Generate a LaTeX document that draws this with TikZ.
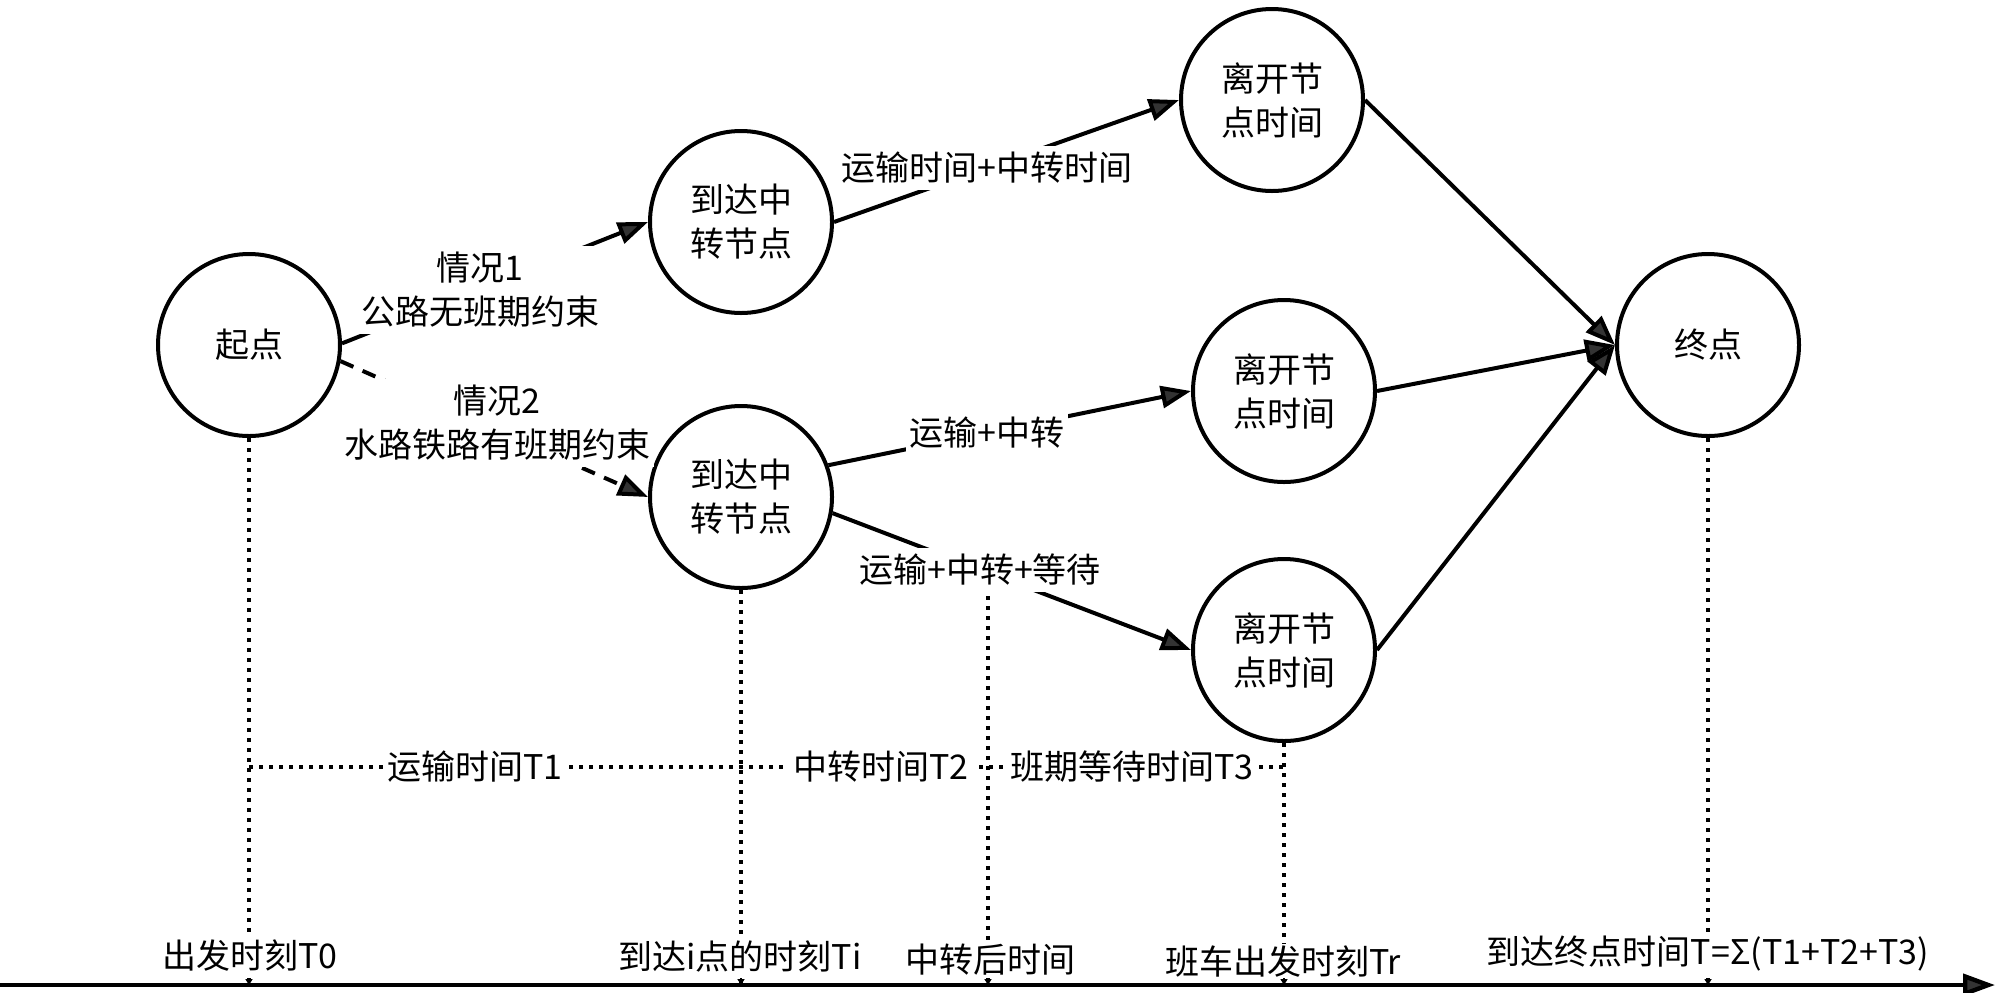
\documentclass[tikz,border=0pt]{standalone}
\usepackage{fontspec}
\setmainfont{Noto Sans CJK SC}
\usetikzlibrary{arrows.meta,calc}
\begin{document}
\begin{tikzpicture}[x=0.5pt,y=-0.5pt,
  every node/.style={font=\fontsize{17pt}{22pt}\selectfont, align=center},
  state/.style={circle, draw, line width=2pt, minimum size=91pt, inner sep=0pt, fill=white},
  edge/.style={line width=2pt, -{Triangle[length=15pt,width=11pt,fill=black!80]}},
  dashedge/.style={edge, dash pattern=on 7pt off 5pt},
  lbl/.style={fill=white, inner xsep=2pt, inner ysep=3pt},
  blbl/.style={fill=white, inner xsep=2pt, inner ysep=1pt},
  guide/.style={line width=1.8pt, dash pattern=on 1.8pt off 3.2pt},
  tick/.style={line width=1pt, -{Triangle[length=3pt,width=3.5pt]}},
  axis/.style={line width=2.2pt, -{Triangle[length=16pt,width=11pt,fill=black!80]}},
]
\fill[white] (0,0) rectangle (2000,992);
\useasboundingbox (0,0) rectangle (2000,992);

% states
\node[state] (S)  at (249,345)  {起点};
\node[state] (A1) at (741,222)  {到达中\\转节点};
\node[state] (A2) at (741,497)  {到达中\\转节点};
\node[state] (L1) at (1272,100) {离开节\\点时间};
\node[state] (L2) at (1284,391) {离开节\\点时间};
\node[state] (L3) at (1284,650) {离开节\\点时间};
\node[state] (E)  at (1708,345) {终点};

% timeline coordinates
\coordinate (axL) at (0,985);
\coordinate (axR) at (1995,985);
\coordinate (hl) at (0,767);
\coordinate (mid) at (988,596);

% edges
\draw[edge] (S.1) -- (A1.west);
\draw[dashedge] (S.-10) -- (A2.west);
\draw[edge] (A1.east) -- (L1.west);
\draw[edge] (A2.20) -- (L2.west);
\draw[edge] (A2.-10) -- (L3.west);
\draw[edge] (L1.east) -- (E.west);
\draw[edge] (L2.east) -- (E.west);
\draw[edge] (L3.east) -- (E.west);

% guides
\draw[guide] (S.south) -- (S.south |- axL);
\draw[guide] (A2.south) -- (A2.south |- axL);
\draw[guide] (mid) -- (mid |- axL);
\draw[guide] (L3.south) -- (L3.south |- axL);
\draw[guide] (E.south) -- (E.south |- axL);
\draw[guide] (S.south |- hl) -- (L3.south |- hl);

% edge labels
\node[lbl] (lab1) at (480,290) {情况1\\公路无班期约束};
\node[lbl] (lab2) at (497,423) {情况2\\水路铁路有班期约束};
\node[lbl] (lab3) at (987,168) {运输时间+中转时间};
\node[lbl] (lab4) at (987,433) {运输+中转};
\node[lbl] (lab5) at (980,570) {运输+中转+等待};

% interval labels
\node[lbl] (t1) at (475,767) {运输时间T1};
\node[lbl] (t2) at (881,767) {中转时间T2};
\node[lbl] (t3) at (1132,767) {班期等待时间T3};

% time labels
\node[blbl] (b0) at (250,956) {出发时刻T0};
\node[blbl] (b1) at (740,956) {到达i点的时刻Ti};
\node[blbl] (b2) at (990,960) {中转后时间};
\node[blbl] (b3) at (1283,962) {班车出发时刻Tr};
\node[blbl] (b4) at (1708,954) {到达终点时间T=Σ(T1+T2+T3)};

% axis and ticks
\draw[axis] (axL) -- (axR);
\draw[tick] ($(S.south |- axL)+(0,-7)$) -- (S.south |- axL);
\draw[tick] ($(A2.south |- axL)+(0,-7)$) -- (A2.south |- axL);
\draw[tick] ($(mid |- axL)+(0,-7)$) -- (mid |- axL);
\draw[tick] ($(L3.south |- axL)+(0,-7)$) -- (L3.south |- axL);
\draw[tick] ($(E.south |- axL)+(0,-7)$) -- (E.south |- axL);
\end{tikzpicture}
\end{document}
